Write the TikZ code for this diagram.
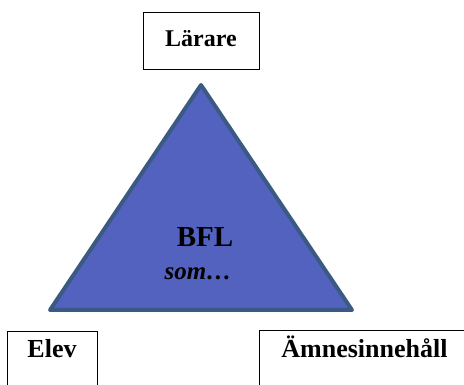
\documentclass[tikz,border=0pt]{standalone}
\usepackage{fontspec}
\setmainfont{Liberation Serif}
\definecolor{trifill}{RGB}{82,98,190}
\definecolor{triedge}{RGB}{59,90,131}
\begin{document}
\begin{tikzpicture}[x=1pt,y=-1pt,
    rolebox/.style={draw, line width=0.8pt, anchor=base, inner sep=0pt, font=\fontsize{26}{30}\selectfont\bfseries},
    corner/.style={fill=trifill, draw=triedge, line width=4pt, line join=round}]
  \useasboundingbox (0,0) rectangle (464,385);
  % triangle
  \coordinate (top) at (201,85);
  \coordinate (left) at (50,310);
  \coordinate (right) at (352,310);
  \draw[corner] (top) -- (left) -- (right) -- cycle;
  \node[anchor=base, font=\fontsize{29}{33}\selectfont\bfseries] (bfl) at (205,247) {BFL};
  \node[anchor=base, font=\fontsize{25}{29}\selectfont\bfseries\itshape] (som) at (198,280) {som…};
  % boxes
  \node[rolebox, font=\fontsize{24}{28}\selectfont\bfseries, minimum width=116pt, text height=35pt, text depth=22pt] (larare) at (201,47) {Lärare};
  \node[rolebox, minimum width=90pt, text height=26pt, text depth=40pt] (elev) at (52,357) {Elev};
  \node[rolebox, minimum width=211pt, text height=27pt, text depth=40pt] (amne) at (364.5,357) {Ämnesinnehåll};
\end{tikzpicture}
\end{document}
